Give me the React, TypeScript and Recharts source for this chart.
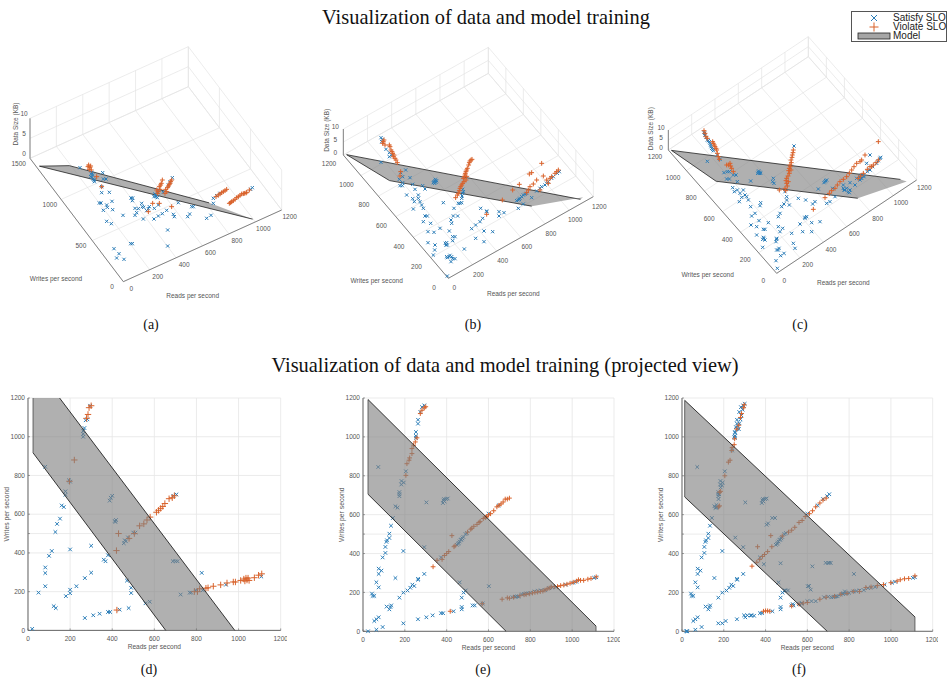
import React from 'react';
import {
  ScatterChart,
  Scatter,
  XAxis,
  YAxis,
  CartesianGrid,
  Label,
} from 'recharts';

type Pt = [number, number];
type Pt3 = [number, number, number];

const BLUE = '#2b7db8';
const ORANGE = '#d9622b';
const SANS = '"Liberation Sans", Arial, sans-serif';
const SERIF = '"Liberation Serif", "Times New Roman", serif';

// [reads, writes]
const satisfyD: Pt[] = [
  [20, 8], [82, 845], [50, 195], [82, 228], [82, 296], [82, 325], [100, 385], [113, 410],
  [130, 508], [138, 550], [152, 577], [160, 645], [170, 637], [178, 700], [178, 718],
  [195, 775], [200, 768], [200, 418], [180, 177], [200, 192], [200, 210], [230, 228],
  [122, 125], [132, 115], [270, 270], [300, 298], [300, 437], [360, 365], [368, 357],
  [380, 388], [270, 64], [310, 78], [340, 86], [380, 95], [390, 95], [435, 107], [478, 115],
  [558, 140], [578, 148], [470, 257], [490, 220], [490, 193], [262, 1000], [262, 1015],
  [262, 1030], [268, 1045], [274, 1085], [282, 1090], [295, 1160], [393, 685], [388, 670],
  [400, 695], [412, 565], [418, 570], [415, 560], [455, 450], [460, 465], [465, 460],
  [475, 480], [500, 505], [510, 505], [705, 702], [690, 695], [688, 357], [700, 357],
  [710, 357], [725, 185], [768, 195], [775, 195], [797, 207], [830, 207], [825, 297],
  [940, 236], [1108, 278],
];
const violateD: Pt[] = [
  [220, 880], [197, 770], [430, 500], [420, 412], [422, 105], [290, 1150], [300, 1160],
  [285, 1115], [278, 1095], [480, 475], [505, 500], [530, 540], [550, 550], [565, 570],
  [580, 585], [610, 610], [620, 620], [630, 630], [640, 640], [650, 655], [670, 680],
  [685, 685], [695, 695], [790, 200], [805, 200], [815, 215], [845, 218], [855, 220],
  [880, 228], [915, 235], [945, 245], [975, 250], [985, 250], [1010, 258], [1025, 265],
  [1030, 255], [1035, 270], [1040, 260], [1045, 270], [1050, 258], [1075, 272], [1095, 285],
  [1110, 292],
];
const satisfyE: Pt[] = [
  [24, 0], [64, 8], [94, 22], [54, 53], [64, 62], [75, 72], [43, 194], [46, 182], [54, 182],
  [64, 252], [75, 226], [75, 295], [75, 322], [88, 312], [94, 380], [107, 403], [107, 434],
  [112, 460], [115, 468], [126, 480], [126, 502], [134, 543], [143, 583], [155, 643],
  [165, 636], [174, 716], [174, 705], [174, 695], [183, 755], [184, 773], [195, 765],
  [205, 823], [73, 845], [155, 274], [193, 413], [113, 127], [126, 113], [131, 125],
  [135, 133], [174, 173], [193, 199], [213, 210], [226, 224], [236, 240], [245, 233],
  [263, 270], [264, 265], [293, 295], [293, 433], [373, 380], [193, 41], [263, 62], [303, 72],
  [333, 82], [373, 93], [383, 93], [433, 103], [472, 113], [472, 125], [524, 133], [534, 133],
  [472, 173], [481, 199], [491, 210], [462, 252], [572, 143], [602, 232], [293, 1162],
  [282, 1153], [274, 1128], [263, 1088], [263, 1068], [253, 1025], [253, 1005], [253, 995],
  [382, 660], [388, 680], [398, 680], [405, 683], [385, 673], [390, 668], [303, 663],
  [449, 445], [457, 455], [462, 462], [467, 470], [475, 478], [490, 500], [497, 505],
  [649, 648], [600, 605], [715, 175], [730, 178], [745, 180], [760, 190], [790, 195],
  [820, 205], [850, 210], [905, 225], [925, 228], [970, 240], [1005, 250], [1020, 255],
  [1105, 275], [1115, 278], [725, 177], [738, 180], [770, 192], [780, 195], [800, 198],
  [835, 207], [870, 212], [890, 222], [455, 450], [470, 472], [480, 485],
];
const violateE: Pt[] = [
  [205, 802], [210, 862], [220, 880], [223, 892], [234, 914], [234, 940], [242, 957],
  [250, 974], [258, 995], [274, 1120], [282, 1137], [293, 1150], [300, 1155], [425, 492],
  [417, 103], [335, 332], [570, 142], [354, 365], [378, 370], [389, 390], [400, 400],
  [410, 410], [435, 435], [500, 510], [515, 525], [530, 540], [545, 550], [560, 565],
  [575, 580], [590, 590], [610, 605], [625, 620], [640, 640], [660, 655], [670, 665],
  [680, 680], [690, 680], [700, 685], [665, 165], [690, 172], [720, 175], [750, 183],
  [780, 190], [810, 197], [835, 202], [860, 207], [880, 218], [900, 228], [930, 230],
  [960, 238], [990, 247], [1020, 258], [1030, 265], [1040, 262], [1055, 262], [1075, 268],
  [1090, 272], [1115, 280], [700, 170], [770, 188], [795, 193], [822, 200], [848, 205],
  [870, 212], [890, 222], [915, 230], [945, 235], [975, 242], [1005, 252], [520, 530],
  [555, 560], [585, 585], [600, 598], [650, 648], [440, 440],
];
// view (f) holds the samples of (e) plus the later ones
const satisfyExtraF: Pt[] = [
  [20, 0], [25, 0], [160, 635], [168, 640], [165, 650], [175, 680], [178, 705], [185, 740],
  [192, 750], [240, 930], [250, 1000], [255, 1020], [262, 1040], [268, 1055], [275, 1070],
  [280, 1090], [285, 1110], [290, 1140], [295, 1160], [300, 1170], [258, 1050], [272, 1040],
  [255, 482], [392, 345], [472, 350], [624, 334], [688, 352], [700, 352], [705, 352],
  [712, 352], [823, 295], [608, 233], [616, 214], [412, 555], [405, 548], [432, 583],
  [445, 583], [496, 210], [507, 210], [174, 41], [209, 53], [297, 82], [313, 82], [329, 82],
  [345, 80], [530, 140], [560, 140], [575, 145], [600, 155], [620, 155], [640, 155],
  [680, 175], [700, 178], [770, 195], [780, 205], [705, 705], [695, 695], [675, 680],
];
const violateF: Pt[] = [
  [175, 640], [180, 645], [180, 715], [185, 720], [205, 800], [222, 870], [230, 880],
  [238, 930], [240, 945], [250, 960], [252, 990], [262, 1040], [272, 1060], [280, 1100],
  [285, 1120], [295, 1150], [298, 1165], [335, 335], [362, 435], [425, 492], [525, 130],
  [390, 103], [400, 105], [410, 105], [420, 103], [358, 355], [372, 370], [385, 385],
  [395, 395], [410, 410], [430, 435], [480, 490], [510, 510], [525, 520], [540, 535],
  [560, 560], [575, 570], [590, 590], [610, 605], [625, 620], [640, 640], [660, 660],
  [675, 675], [690, 685], [560, 140], [580, 145], [600, 148], [660, 165], [690, 175],
  [730, 180], [760, 190], [790, 195], [820, 205], [850, 205], [880, 225], [905, 228],
  [935, 235], [965, 240], [1000, 250], [1030, 258], [1045, 265], [1065, 270], [1085, 272],
  [1115, 285],
];
const satisfyF: Pt[] = [...satisfyE, ...satisfyExtraF];

// the 3D views cannot be inverted by eye, so these are positions on the projected picture plane
const viewSatisfyA: Pt[] = [
  [240, 413], [275, 428], [278, 435], [272, 440], [280, 447], [283, 455], [308, 428], [310, 447],
  [318, 447], [305, 470], [305, 488], [328, 487], [298, 519], [303, 519], [320, 525], [322, 532],
  [310, 541], [336, 514], [338, 539], [320, 574], [334, 581], [369, 556], [393, 504], [398, 504],
  [397, 512], [405, 535], [415, 536], [410, 548], [405, 556], [425, 520], [427, 530], [431, 532],
  [440, 542], [445, 536], [448, 530], [430, 567], [462, 567], [475, 525], [463, 535], [475, 558],
  [487, 551], [500, 541], [520, 553], [523, 560], [535, 518], [503, 600], [503, 648], [392, 641],
  [397, 641], [342, 656], [357, 671], [350, 684], [372, 688], [563, 560], [569, 552], [575, 530],
  [580, 530], [620, 565], [633, 556], [465, 492], [468, 498], [472, 503], [475, 480], [462, 500],
  [490, 487], [505, 465], [510, 455], [517, 443], [640, 505], [640, 520], [650, 497], [660, 490],
  [757, 473], [752, 478], [274, 432], [276, 442], [282, 450], [466, 495], [470, 500], [474, 488],
];
const viewViolateA: Pt[] = [
  [266, 405], [270, 412], [268, 418], [274, 420], [290, 440], [305, 470], [458, 520], [445, 545],
  [478, 520], [515, 530], [470, 480], [478, 470], [482, 465], [487, 450], [473, 490], [495, 490],
  [497, 478], [505, 468], [510, 460], [515, 450], [648, 500], [655, 495], [665, 488], [675, 482],
  [680, 478], [688, 520], [695, 515], [705, 508], [715, 500], [725, 492], [733, 490], [740, 487],
  [748, 480], [264, 410], [272, 408], [474, 485], [480, 478], [484, 460], [500, 485], [503, 473],
  [508, 464], [512, 455], [692, 518], [700, 512], [710, 503], [720, 496], [730, 491], [738, 489],
  [660, 492], [670, 485],
];
const viewSatisfyB: Pt[] = [
  [213, 323], [215, 335], [228, 358], [238, 368], [238, 380], [245, 375], [213, 397], [272, 428],
  [278, 440], [287, 420], [300, 443], [278, 458], [268, 448], [270, 467], [277, 467], [308, 463],
  [315, 478], [338, 467], [345, 477], [375, 452], [372, 455], [378, 457], [290, 495], [308, 506],
  [313, 515], [325, 495], [310, 537], [325, 505], [330, 515], [335, 525], [340, 535], [345, 558],
  [352, 558], [340, 575], [362, 580], [354, 605], [372, 607], [390, 595], [418, 603], [354, 638],
  [375, 645], [374, 660], [370, 675], [410, 638], [408, 645], [428, 620], [435, 620], [428, 632],
  [410, 680], [418, 680], [425, 680], [435, 686], [423, 695], [412, 738], [400, 518], [432, 535],
  [445, 520], [455, 518], [430, 558], [443, 558], [423, 570], [425, 580], [463, 657], [497, 625],
  [522, 635], [522, 603], [485, 596], [497, 585], [510, 575], [518, 565], [512, 535], [530, 543],
  [567, 545], [567, 558], [582, 548], [548, 605], [458, 490], [458, 478], [455, 505], [450, 520],
  [625, 510], [630, 505], [640, 495], [650, 490], [665, 503], [680, 483], [690, 475], [705, 465],
  [715, 455], [730, 440], [748, 425], [625, 535], [640, 522], [217, 328], [376, 448], [370, 458],
  [380, 452], [374, 460], [620, 512], [628, 508], [635, 500], [645, 493], [695, 470], [710, 460],
  [725, 445], [742, 430], [456, 498], [460, 485], [412, 683], [420, 676], [428, 686], [406, 640],
  [412, 645], [530, 545],
];
const viewViolateB: Pt[] = [
  [220, 335], [218, 340], [240, 350], [243, 360], [248, 370], [250, 380], [258, 390], [262, 398],
  [272, 425], [270, 438], [483, 390], [478, 398], [472, 415], [468, 425], [465, 435], [470, 440],
  [460, 445], [462, 455], [455, 465], [450, 475], [445, 490], [437, 503], [530, 553], [577, 510],
  [695, 400], [665, 428], [658, 432], [628, 463], [608, 480], [655, 480], [670, 462], [680, 450],
  [700, 438], [720, 445], [735, 430], [745, 420], [690, 480], [715, 460], [222, 330], [225, 345],
  [238, 345], [246, 365], [252, 375], [255, 385], [480, 393], [486, 388], [476, 405], [470, 420],
  [466, 430], [463, 440], [468, 450], [458, 460], [452, 470], [448, 482], [442, 495], [710, 450],
  [725, 440], [740, 425], [660, 470], [650, 488],
];
const viewSatisfyC: Pt[] = [
  [222, 397], [225, 405], [232, 420], [238, 425], [242, 435], [245, 445], [250, 452], [232, 484],
  [262, 465], [270, 478], [282, 518], [292, 515], [298, 515], [310, 525], [318, 525], [290, 537],
  [298, 537], [322, 545], [362, 543], [385, 517], [390, 517], [388, 520], [430, 535], [428, 545],
  [432, 550], [585, 545], [590, 540], [565, 567], [640, 565], [645, 570], [655, 575], [660, 570],
  [690, 530], [695, 525], [308, 563], [313, 575], [330, 580], [322, 570], [340, 570], [345, 585],
  [350, 590], [328, 605], [335, 592], [355, 600], [362, 620], [392, 608], [390, 617], [375, 640],
  [365, 648], [363, 675], [380, 680], [387, 662], [400, 688], [405, 688], [415, 668], [380, 705],
  [400, 712], [405, 720], [398, 742], [440, 715], [438, 725], [440, 750], [447, 745], [438, 782],
  [452, 767], [462, 760], [442, 805], [445, 680], [458, 685], [450, 695], [445, 650], [450, 640],
  [455, 620], [462, 612], [470, 600], [478, 615], [505, 595], [527, 600], [555, 605], [548, 612],
  [590, 610], [600, 605], [615, 590], [570, 665], [545, 695], [518, 695], [510, 672], [525, 655],
  [530, 650], [545, 668], [485, 700], [490, 730], [495, 745], [492, 438], [470, 590], [465, 575],
  [608, 565], [640, 555], [660, 548], [680, 535], [700, 525], [720, 510], [740, 490], [752, 472],
  [710, 490], [720, 465], [690, 540], [675, 555], [224, 400], [228, 412], [235, 422], [240, 430],
  [243, 440], [248, 448], [386, 513], [392, 520], [383, 520], [587, 542], [582, 548], [642, 570],
  [650, 565], [658, 578], [695, 535], [702, 530], [712, 515], [728, 500], [745, 482], [750, 475],
  [692, 535], [440, 718], [445, 750], [402, 715], [398, 718], [525, 652],
];
const viewViolateC: Pt[] = [
  [225, 400], [228, 410], [250, 430], [255, 440], [260, 450], [265, 470], [290, 495], [300, 490],
  [305, 505], [310, 515], [490, 450], [487, 465], [483, 480], [480, 495], [478, 505], [478, 520],
  [470, 535], [470, 550], [465, 565], [448, 570], [475, 545], [483, 510], [550, 628], [585, 593],
  [598, 580], [615, 565], [630, 545], [650, 530], [665, 510], [680, 490], [695, 480], [745, 425],
  [705, 465], [730, 495], [745, 480], [720, 500], [700, 520], [685, 535], [489, 458], [486, 472],
  [484, 488], [481, 500], [476, 512], [474, 528], [468, 542], [472, 558], [467, 572], [222, 392],
  [232, 415], [248, 425], [253, 435], [258, 445], [262, 460], [268, 478], [296, 495], [302, 498],
  [640, 538], [658, 520], [672, 500], [690, 485], [725, 500], [738, 488], [712, 508], [692, 528],
  [605, 572], [622, 555],
];

// model surface: [reads, writes] in the flat views, [reads, writes, size KB] in the 3D ones
const modelD: Pt[] = [[24, 1200], [150, 1200], [982, 0], [654, 0], [24, 917]];
const modelE: Pt[] = [[24, 1192], [1114, 27], [1114, 0], [684, 0], [24, 705]];
const modelF: Pt[] = [[13, 1188], [1115, 74], [1115, 0], [695, 0], [13, 691]];
const modelA: Pt3[] = [[20, 1390, 0], [980, 0, 1], [650, 0, 10], [20, 910, 10]];
const modelB: Pt3[] = [[20, 1190, 0], [1115, 30, 0], [1115, 0, 2], [690, 0, 9.7], [20, 700, 9.4]];
const modelC: Pt3[] = [[15, 1185, 0], [1115, 70, 0], [1115, 0, 2.5], [695, 0, 10.5], [15, 690, 10]];

const readTicks = [0, 200, 400, 600, 800, 1000, 1200];
const writeTicksFlat = [0, 200, 400, 500, 600, 800, 1000, 1200];
const writeTicksWide = [0, 500, 1000, 1500];
const sizeTicks = [0, 5, 10];

const XMark = ({ cx, cy, r, color }: any) => (
  <path
    d={`M${cx - r} ${cy - r}L${cx + r} ${cy + r}M${cx - r} ${cy + r}L${cx + r} ${cy - r}`}
    stroke={color}
    strokeWidth={1}
    fill="none"
  />
);
const PlusMark = ({ cx, cy, r, color }: any) => (
  <path
    d={`M${cx - r} ${cy}L${cx + r} ${cy}M${cx} ${cy - r}L${cx} ${cy + r}`}
    stroke={color}
    strokeWidth={1}
    fill="none"
  />
);
const noDot = () => null;
const polygonLine = (props: any) => (
  <polygon
    points={props.points.map((p: any) => `${p.x},${p.y}`).join(' ')}
    fill="#808080"
    fillOpacity={0.62}
    stroke="none"
  />
);

function FlatPanel({ left, top, width, height, satisfy, violate, model, plusR }: any) {
  const xy = (pts: Pt[]) => pts.map(([x, y]) => ({ x, y }));
  const edges = [
    [model[model.length - 1], model[0]],
    ...model.slice(0, -1).map((p: Pt, i: number) => [p, model[i + 1]]),
  ].filter(([a, b]: Pt[]) => a[1] !== 1200 || b[1] !== 1200)
    .filter(([a, b]: Pt[]) => a[1] !== 0 || b[1] !== 0);
  const xTick = ({ x, y, payload }: any) => (
    <g>
      <line x1={x} x2={x} y1={y - 5} y2={y - 3} stroke="#666" strokeWidth={0.6} />
      <text x={x} y={y + 8} fontSize={6.5} fontFamily={SANS} fill="#555" textAnchor="middle">
        {payload.value}
      </text>
    </g>
  );
  const yTick = ({ x, y, payload }: any) => (
    <g>
      <line x1={x + 3} x2={x + 5} y1={y} y2={y} stroke="#666" strokeWidth={0.6} />
      {payload.value !== 500 && (
        <text x={x} y={y + 2.3} fontSize={6.5} fontFamily={SANS} fill="#555" textAnchor="end">
          {payload.value}
        </text>
      )}
    </g>
  );
  return (
    <div style={{ position: 'absolute', left: left - 28, top: top - 6 }}>
      <ScatterChart
        width={width + 34}
        height={height + 28}
        margin={{ top: 6, right: 6, bottom: 0, left: 0 }}
      >
        <CartesianGrid stroke="#e6e6e6" strokeWidth={0.8} />
        <XAxis
          type="number"
          dataKey="x"
          domain={[0, 1200]}
          ticks={readTicks}
          interval={0}
          height={22}
          tickSize={0}
          tickMargin={3}
          tick={xTick}
          stroke="#666"
        >
          <Label
            value="Reads per second"
            position="insideBottom"
            offset={3}
            fontSize={6.6}
            fontFamily={SANS}
            fill="#555"
          />
        </XAxis>
        <YAxis
          type="number"
          dataKey="y"
          domain={[0, 1200]}
          ticks={writeTicksFlat}
          interval={0}
          width={28}
          tickSize={0}
          tickMargin={3}
          tick={yTick}
          stroke="#666"
        >
          <Label
            value="Writes per second"
            angle={-90}
            position="insideLeft"
            offset={7}
            style={{ textAnchor: 'middle' }}
            fontSize={6.8}
            fontFamily={SANS}
            fill="#555"
          />
        </YAxis>
        <Scatter
          data={xy(satisfy)}
          isAnimationActive={false}
          shape={(p: any) => <XMark cx={p.cx} cy={p.cy} r={1.8} color={BLUE} />}
        />
        <Scatter
          data={xy(violate)}
          isAnimationActive={false}
          shape={(p: any) => <PlusMark cx={p.cx} cy={p.cy} r={plusR} color={ORANGE} />}
        />
        <Scatter data={xy(model)} isAnimationActive={false} shape={noDot} line={polygonLine} />
        {edges.map((edge: Pt[], i: number) => (
          <Scatter
            key={i}
            data={xy(edge)}
            isAnimationActive={false}
            shape={noDot}
            line={{ stroke: edge[0][0] === edge[1][0] ? '#555' : '#222', strokeWidth: 0.9 }}
          />
        ))}
      </ScatterChart>
    </div>
  );
}

// view units are 1/3 px, so a 3D panel's domain is three times its size
function Panel3D({ view, satisfy, violate, model }: any) {
  const { left, top, width, height, origin, readVec, writeVec, sizeVec, writeMax } = view;
  const writeTicks: number[] = view.writeTicks;
  const project = (r: number, w: number, z: number) => ({
    x: origin[0] + (r / 1200) * readVec[0] + (w / writeMax) * writeVec[0],
    y: origin[1] + (r / 1200) * readVec[1] + (w / writeMax) * writeVec[1] + (z / 10) * sizeVec,
  });
  const grid: any[] = [];
  readTicks.forEach((r) => {
    grid.push([project(r, 0, 0), project(r, writeMax, 0)]);
    grid.push([project(r, writeMax, 0), project(r, writeMax, 10)]);
  });
  writeTicks.forEach((w) => {
    grid.push([project(0, w, 0), project(1200, w, 0)]);
    grid.push([project(1200, w, 0), project(1200, w, 10)]);
  });
  sizeTicks.forEach((z) => {
    grid.push([project(0, writeMax, z), project(1200, writeMax, z)]);
    grid.push([project(1200, 0, z), project(1200, writeMax, z)]);
  });
  const axes = [
    [project(0, 0, 0), project(1200, 0, 0)],
    [project(0, 0, 0), project(0, writeMax, 0)],
    [project(0, writeMax, 0), project(0, writeMax, 10)],
  ];
  const shifted = (p: any, off: number[], text: any) => ({ x: p.x + off[0], y: p.y + off[1], text });
  const labels = [
    ...readTicks.map((r) => shifted(project(r, 0, 0), view.readLabelOff, r)),
    ...writeTicks.map((w) => shifted(project(0, w, 0), view.writeLabelOff, w)),
    ...sizeTicks.map((z) => shifted(project(0, writeMax, z), view.sizeLabelOff, z)),
    { x: view.writesTitle[0], y: view.writesTitle[1], text: 'Writes per second' },
    { x: view.readsTitle[0], y: view.readsTitle[1], text: 'Reads per second' },
  ];
  const corners = model.map(([r, w, z]: Pt3) => project(r, w, z));
  const lastCorner = corners.length - 1;
  const edges = [
    [corners[lastCorner], corners[0]],
    [corners[0], corners[1]],
    [corners[lastCorner - 1], corners[lastCorner]],
  ];
  const xy = (pts: Pt[]) => pts.map(([x, y]) => ({ x, y }));
  return (
    <div style={{ position: 'absolute', left, top }}>
      <ScatterChart width={width} height={height} margin={{ top: 0, right: 0, bottom: 0, left: 0 }}>
        <XAxis hide type="number" dataKey="x" domain={[0, width * 3]} />
        <YAxis hide reversed type="number" dataKey="y" domain={[0, height * 3]} />
        {grid.map((seg, i) => (
          <Scatter
            key={`g${i}`}
            data={seg}
            isAnimationActive={false}
            shape={noDot}
            line={{ stroke: '#e4e4e4', strokeWidth: 0.7 }}
          />
        ))}
        {axes.map((seg, i) => (
          <Scatter
            key={`a${i}`}
            data={seg}
            isAnimationActive={false}
            shape={noDot}
            line={{ stroke: '#666', strokeWidth: 0.8 }}
          />
        ))}
        <Scatter
          data={labels}
          isAnimationActive={false}
          shape={(p: any) => (
            <text
              x={p.cx}
              y={p.cy + 2.3}
              fontSize={6.5}
              fontFamily={SANS}
              fill="#555"
              textAnchor="middle"
            >
              {p.payload.text}
            </text>
          )}
        />
        <Scatter
          data={[{ x: view.sizeTitle[0], y: view.sizeTitle[1] }]}
          isAnimationActive={false}
          shape={(p: any) => (
            <text
              transform={`translate(${p.cx + 2},${p.cy}) rotate(-90)`}
              fontSize={6.5}
              fontFamily={SANS}
              fill="#555"
              textAnchor="middle"
            >
              Data Size (KB)
            </text>
          )}
        />
        <Scatter data={corners} isAnimationActive={false} shape={noDot} line={polygonLine} />
        {edges.map((seg, i) => (
          <Scatter
            key={`e${i}`}
            data={seg}
            isAnimationActive={false}
            shape={noDot}
            line={{ stroke: '#222', strokeWidth: 0.8 }}
          />
        ))}
        <Scatter
          data={xy(satisfy)}
          isAnimationActive={false}
          shape={(p: any) => <XMark cx={p.cx} cy={p.cy} r={1.6} color={BLUE} />}
        />
        <Scatter
          data={xy(violate)}
          isAnimationActive={false}
          shape={(p: any) => <PlusMark cx={p.cx} cy={p.cy} r={2.4} color={ORANGE} />}
        />
      </ScatterChart>
    </div>
  );
}

const viewA = {
  left: 0, top: 30, width: 310, height: 310,
  origin: [370, 755], readVec: [475, -215], writeVec: [-280, -370], sizeVec: -120,
  writeMax: 1500, writeTicks: writeTicksWide,
  readLabelOff: [24, 21], writeLabelOff: [-34, 15], sizeLabelOff: [-18, -13],
  writesTitle: [168, 745], readsTitle: [578, 797], sizeTitle: [47, 282],
};
const viewB = {
  left: 310, top: 30, width: 310, height: 310,
  origin: [415, 745], readVec: [435, -245], writeVec: [-315, -370], sizeVec: -78,
  writeMax: 1200, writeTicks: readTicks,
  readLabelOff: [18, 29], writeLabelOff: [-43, 27], sizeLabelOff: [-24, -7],
  writesTitle: [200, 752], readsTitle: [610, 790], sizeTitle: [52, 301],
};
const viewC = {
  left: 630, top: 0, width: 317, height: 340,
  origin: [440, 820], readVec: [420, -280], writeVec: [-325, -370], sizeVec: -60,
  writeMax: 1200, writeTicks: readTicks,
  readLabelOff: [23, 22], writeLabelOff: [-40, 21], sizeLabelOff: [-22, -8],
  writesTitle: [233, 823], readsTitle: [640, 848], sizeTitle: [62, 386],
};

const Caption = ({ x, y, children, size = 14 }: any) => (
  <div
    style={{
      position: 'absolute',
      left: x,
      top: y,
      transform: 'translate(-50%, -50%)',
      fontFamily: SERIF,
      fontSize: size,
      color: '#111',
      whiteSpace: 'nowrap',
    }}
  >
    {children}
  </div>
);

function ModelLegend() {
  const rowText = {
    position: 'absolute',
    left: 41,
    lineHeight: '9px',
    fontSize: 10,
    whiteSpace: 'nowrap',
  } as const;
  return (
    <div
      style={{
        position: 'absolute',
        left: 851,
        top: 11,
        width: 96,
        height: 31,
        boxSizing: 'border-box',
        border: '1px solid #555',
        background: '#fff',
        fontFamily: SANS,
        color: '#222',
      }}
    >
      <svg width={40} height={30} style={{ position: 'absolute', left: 0, top: 0 }}>
        <XMark cx={22} cy={6} r={3} color={BLUE} />
        <PlusMark cx={22} cy={15} r={4.5} color={ORANGE} />
        <rect x={6} y={21} width={32} height={6} fill="#a6a6a6" stroke="#222" strokeWidth={0.8} />
      </svg>
      <div style={{ ...rowText, top: 1 }}>Satisfy SLO</div>
      <div style={{ ...rowText, top: 10 }}>Violate SLO</div>
      <div style={{ ...rowText, top: 19 }}>Model</div>
    </div>
  );
}

export default function App() {
  return (
    <div
      style={{
        position: 'absolute',
        left: 0,
        top: 0,
        width: 947,
        height: 678,
        overflow: 'hidden',
        background: '#fff',
      }}
    >
      <Panel3D view={viewA} satisfy={viewSatisfyA} violate={viewViolateA} model={modelA} />
      <Panel3D view={viewB} satisfy={viewSatisfyB} violate={viewViolateB} model={modelB} />
      <Panel3D view={viewC} satisfy={viewSatisfyC} violate={viewViolateC} model={modelC} />
      <FlatPanel
        left={28.3} top={398.3} width={252.7} height={232.4}
        satisfy={satisfyD} violate={violateD} model={modelD} plusR={3.2}
      />
      <FlatPanel
        left={362.7} top={397.7} width={251} height={233.3}
        satisfy={satisfyE} violate={violateE} model={modelE} plusR={2.4}
      />
      <FlatPanel
        left={681.7} top={397.7} width={250.7} height={233.3}
        satisfy={satisfyF} violate={violateF} model={modelF} plusR={2.4}
      />
      <Caption x={486} y={17} size={20.4}>Visualization of data and model training</Caption>
      <Caption x={505} y={365} size={20.4}>Visualization of data and model training (projected view)</Caption>
      <Caption x={151} y={325}>(a)</Caption>
      <Caption x={473} y={325}>(b)</Caption>
      <Caption x={800} y={325}>(c)</Caption>
      <Caption x={149} y={670}>(d)</Caption>
      <Caption x={483} y={670}>(e)</Caption>
      <Caption x={799} y={670}>(f)</Caption>
      <ModelLegend />
    </div>
  );
}
